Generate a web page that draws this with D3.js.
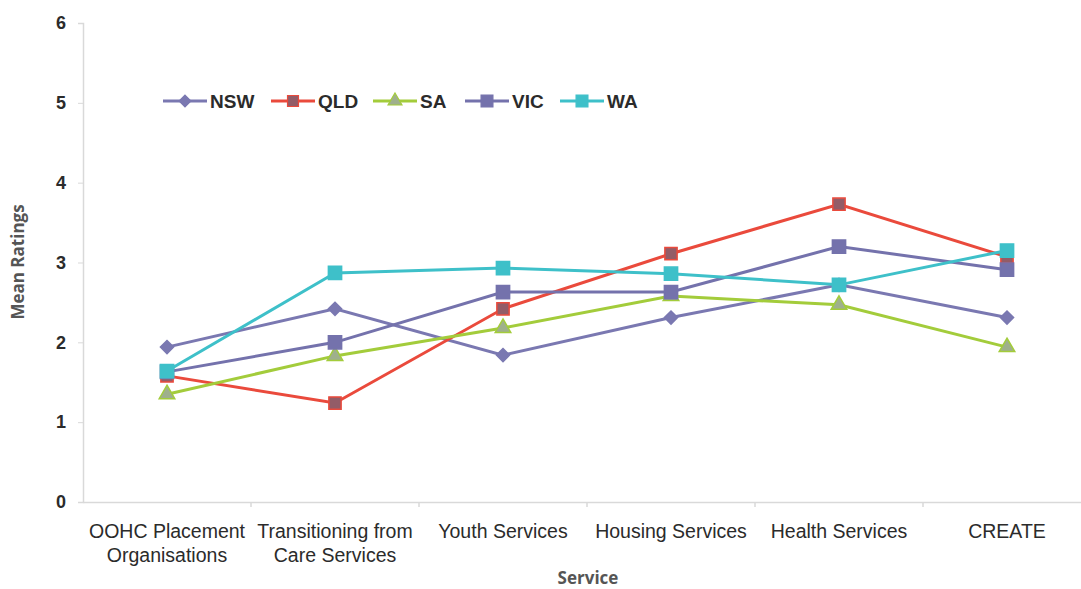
<!DOCTYPE html>
<html>
<head>
<meta charset="utf-8">
<script src="https://cdn.jsdelivr.net/npm/d3@7"></script>
<style>
  body { margin: 0; background: #fff; }
  svg text { font-family: "Liberation Sans", Arial, sans-serif; }
</style>
</head>
<body>
<div id="chart"></div>
<script>
// categories and series
const categories = [
  ["OOHC Placement", "Organisations"],
  ["Transitioning from", "Care Services"],
  ["Youth Services"],
  ["Housing Services"],
  ["Health Services"],
  ["CREATE"]
];
const nsw = [1.94, 2.42, 1.84, 2.31, 2.72, 2.31];
const qld = [1.58, 1.24, 2.42, 3.11, 3.73, 3.07];
const sa  = [1.35, 1.83, 2.18, 2.58, 2.47, 1.94];
const vic = [1.63, 2.00, 2.63, 2.63, 3.20, 2.91];
const wa  = [1.64, 2.87, 2.93, 2.86, 2.72, 3.15];
const seriesNames = ["NSW", "QLD", "SA", "VIC", "WA"];
const yTicks = [0, 1, 2, 3, 4, 5, 6];

const series = [
  {name: "NSW", values: nsw, line: "#7a78b1", fill: "#7a78b1", shape: d3.symbolDiamond2, size: 110},
  {name: "QLD", values: qld, line: "#ea4a3c", fill: "#935c67", shape: d3.symbolSquare, size: 150},
  {name: "SA",  values: sa,  line: "#a3cc3b", fill: "#9fb08c", shape: d3.symbolTriangle, size: 105},
  {name: "VIC", values: vic, line: "#7472ac", fill: "#7472ac", shape: d3.symbolSquare, size: 175},
  {name: "WA",  values: wa,  line: "#3ec0c9", fill: "#3ec0c9", shape: d3.symbolSquare, size: 175}
];

const width = 1081, height = 589;
const svg = d3.select("#chart").append("svg")
  .attr("width", width).attr("height", height);

const x = d3.scaleBand().domain(d3.range(categories.length)).range([83, 1091]);
const y = d3.scaleLinear().domain([0, 6]).range([502, 23]);

// y axis
let yAxis = svg.append("g")
  .attr("transform", `translate(${x.range()[0]},0)`)
  .call(d3.axisLeft(y).tickValues(yTicks).tickFormat(d3.format("d"))
    .tickSize(5).tickPadding(12));
yAxis.select(".domain").attr("stroke", "#d9d9d9").attr("stroke-width", 1.5);
yAxis.selectAll(".tick line").attr("stroke", "#d9d9d9");
yAxis.selectAll(".tick text").attr("fill", "#2b2b2b").attr("font-size", 18)
  .attr("font-weight", "bold");

// x axis
let xAxis = svg.append("g")
  .attr("transform", `translate(0,${y(0)})`)
  .call(d3.axisBottom(x).tickSize(0).tickFormat(""));
xAxis.select(".domain").attr("stroke", "#d9d9d9").attr("stroke-width", 1.5);
xAxis.selectAll(".tick").remove();

// tick marks between the categories
svg.append("g").selectAll("line")
  .data(d3.range(1, categories.length))
  .join("line")
  .attr("x1", i => x(i)).attr("x2", i => x(i))
  .attr("y1", y(0)).attr("y2", y(0) + 5)
  .attr("stroke", "#d9d9d9").attr("stroke-width", 1.5);

// category labels
let catLabels = svg.append("g").selectAll("text")
  .data(categories)
  .join("text")
  .attr("x", (d, i) => x(i) + x.bandwidth() / 2)
  .attr("y", 538)
  .attr("text-anchor", "middle")
  .attr("font-size", 19.5)
  .attr("fill", "#2b2b2b");
catLabels.selectAll("tspan")
  .data(d => d)
  .join("tspan")
  .attr("x", function() { return this.parentNode.getAttribute("x"); })
  .attr("dy", (d, i) => i === 0 ? 0 : 24)
  .text(d => d);

// axis titles
svg.append("text")
  .attr("x", 588).attr("y", 584)
  .attr("text-anchor", "middle")
  .attr("font-size", 17).attr("font-weight", "bold")
  .attr("fill", "#555")
  .style("font-family", "'Open Sans', sans-serif")
  .text("Service");
svg.append("text")
  .attr("transform", "translate(24,262) rotate(-90)")
  .attr("text-anchor", "middle")
  .attr("font-size", 17).attr("font-weight", "bold")
  .attr("fill", "#555")
  .style("font-family", "'Open Sans', sans-serif")
  .text("Mean Ratings");

// lines and markers
const line = d3.line()
  .x((d, i) => x(i) + x.bandwidth() / 2)
  .y(d => y(d));

let plot = svg.append("g");
series.forEach(s => {
  plot.append("path")
    .attr("d", line(s.values))
    .attr("fill", "none")
    .attr("stroke", s.line)
    .attr("stroke-width", 3);
  plot.selectAll(null)
    .data(s.values)
    .join("path")
    .attr("transform", (d, i) => `translate(${x(i) + x.bandwidth() / 2},${y(d)})`)
    .attr("d", d3.symbol(s.shape, s.size))
    .attr("fill", s.fill)
    .attr("stroke", s.line)
    .attr("stroke-width", 1.5);
});

// legend
const legendX = [163, 271, 373, 465, 560];
let legend = svg.append("g");
series.forEach((s, i) => {
  let g = legend.append("g").attr("transform", `translate(${legendX[i]},101)`);
  g.append("line")
    .attr("x1", 0).attr("x2", 44)
    .attr("stroke", s.line).attr("stroke-width", 3);
  g.append("path")
    .attr("transform", "translate(22,0)")
    .attr("d", d3.symbol(s.shape, s.size * 0.8))
    .attr("fill", s.fill).attr("stroke", s.line).attr("stroke-width", 1.2);
  g.append("text")
    .attr("x", 47).attr("y", 7)
    .attr("font-size", 19).attr("font-weight", "bold")
    .attr("fill", "#2b2b2b")
    .text(seriesNames[i]);
});
</script>
</body>
</html>
